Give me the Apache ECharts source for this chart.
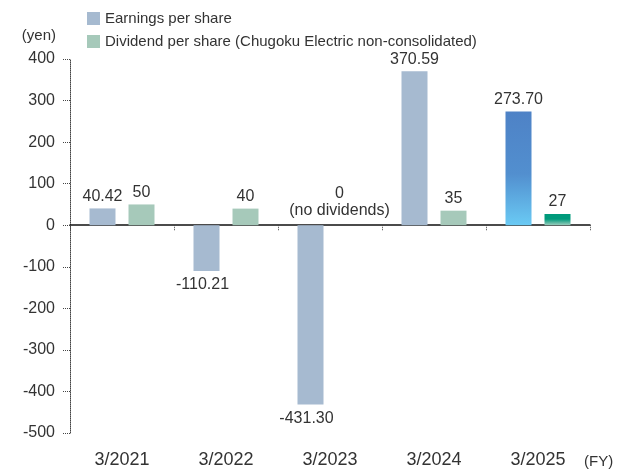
<!DOCTYPE html>
<html>
<head>
<meta charset="utf-8">
<script src="https://cdn.jsdelivr.net/npm/echarts@6/dist/echarts.min.js"></script>
<style>
  html, body { margin: 0; padding: 0; background: #fff; }
  #main { width: 634px; height: 469px; }
</style>
</head>
<body>
<div id="main"></div>
<script>
// data
const categories = ['3/2021', '3/2022', '3/2023', '3/2024', '3/2025'];
const eps = [40.42, -110.21, -431.30, 370.59, 273.70];
const dividends = [50, 40, 0, 35, 27];
const yMin = -500, yMax = 400, yStep = 100;

const FONT = '"Liberation Sans", Arial, sans-serif';
const TXT = '#333';

// last year is drawn with gradients
const lastIdx = categories.length - 1;
const epsBlue = new echarts.graphic.LinearGradient(0, 0, 0, 1, [
  { offset: 0, color: '#4e82c6' },
  { offset: 0.55, color: '#528fcf' },
  { offset: 1, color: '#6acaf4' }
]);
const divGreen = new echarts.graphic.LinearGradient(0, 0, 0, 1, [
  { offset: 0, color: '#009a7b' },
  { offset: 0.45, color: '#009a7b' },
  { offset: 1, color: '#9ccdbd' }
]);

const epsData = eps.map((v, i) => {
  const item = { value: v };
  if (i === lastIdx) item.itemStyle = { color: epsBlue };
  // negative values: label under the bar
  if (v < 0) item.label = { position: 'bottom', distance: 6, offset: [-4, 0] };
  return item;
});
const divData = dividends.map((v, i) => {
  if (i === lastIdx) return { value: v, itemStyle: { color: divGreen } };
  if (v === 0) return { value: v, label: { formatter: '0\n(no dividends)', offset: [-10, -2], lineHeight: 17 } };
  return v;
});

const chart = echarts.init(document.getElementById('main'));
const option = {
  animation: false,
  textStyle: { fontFamily: FONT },
  legend: {
    orient: 'vertical',
    left: 87,
    top: 11,
    padding: 0,
    itemWidth: 13,
    itemHeight: 13,
    itemGap: 8,
    icon: 'rect',
    textStyle: { fontSize: 15, color: TXT, fontFamily: FONT },
    data: ['Earnings per share', 'Dividend per share (Chugoku Electric non-consolidated)']
  },
  grid: { left: 70, right: 44, top: 59, bottom: 36 },
  xAxis: [
    {
      type: 'category',
      data: categories,
      position: 'bottom',
      axisLine: { show: false, onZero: false },
      axisTick: { show: false },
      axisLabel: { margin: 18, fontSize: 18, color: TXT, fontFamily: FONT },
      name: '(FY)',
      nameLocation: 'end',
      nameGap: -6,
      nameTextStyle: { fontSize: 15, color: TXT, fontFamily: FONT, verticalAlign: 'top', padding: [21, 0, 0, 0] }
    },
    {
      type: 'category',
      data: categories,
      position: 'bottom',
      axisLine: { onZero: true, lineStyle: { color: '#111', width: 1.5 } },
      axisTick: { show: true, length: 5, lineStyle: { color: '#444', type: 'dotted' } },
      axisLabel: { show: false }
    }
  ],
  yAxis: {
    type: 'value',
    min: yMin,
    max: yMax,
    interval: yStep,
    name: '(yen)',
    nameLocation: 'end',
    nameGap: 16,
    nameTextStyle: { fontSize: 15, color: TXT, fontFamily: FONT, align: 'right', padding: [0, 14, 0, 0] },
    axisLine: { show: true, lineStyle: { color: '#444', type: 'dotted' } },
    axisTick: { show: true, length: 7, lineStyle: { color: '#444', type: 'dotted' } },
    axisLabel: { margin: 15, fontSize: 16, color: TXT, fontFamily: FONT },
    splitLine: { show: false }
  },
  series: [
    {
      name: 'Earnings per share',
      type: 'bar',
      xAxisIndex: 0,
      data: epsData,
      barWidth: 26,
      barGap: '50%',
      itemStyle: { color: '#a6bad0' },
      label: {
        show: true,
        position: 'top',
        distance: 4,
        fontSize: 16,
        color: TXT,
        fontFamily: FONT,
        formatter: p => p.value.toFixed(2)
      }
    },
    {
      name: 'Dividend per share (Chugoku Electric non-consolidated)',
      type: 'bar',
      xAxisIndex: 0,
      data: divData,
      barWidth: 26,
      itemStyle: { color: '#a6c9ba' },
      label: {
        show: true,
        position: 'top',
        distance: 4,
        fontSize: 16,
        color: TXT,
        fontFamily: FONT
      }
    }
  ]
};
chart.setOption(option);
</script>
</body>
</html>
